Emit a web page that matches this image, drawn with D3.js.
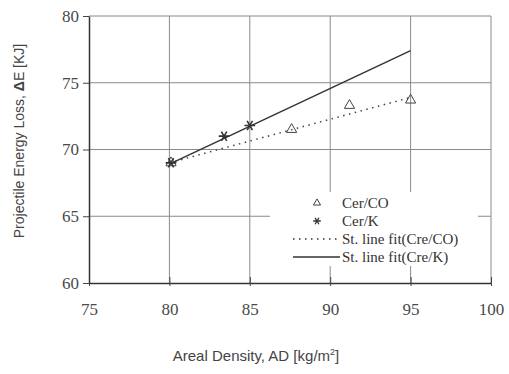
<!DOCTYPE html>
<html>
<head>
<meta charset="UTF-8">
<script src="https://d3js.org/d3.v7.min.js"></script>
<style>
  body { margin: 0; background: #fff; }
</style>
</head>
<body>
<div id="chart"></div>
<script>
// values
var cerCO = [[80.1, 69.0], [87.6, 71.5], [91.2, 73.3], [95.0, 73.7]];
var cerK = [[80.1, 69.0], [83.4, 71.0], [85.0, 71.8]];
var fitCO = [[80, 69.0], [95, 73.9]];
var fitK = [[80, 68.9], [95, 77.4]];
var xTicks = [75, 80, 85, 90, 95, 100];
var yTicks = [60, 65, 70, 75, 80];

var width = 509, height = 374;
var margin = { top: 16, right: 18, bottom: 91, left: 89 };

var svg = d3.select("#chart").append("svg")
  .attr("width", width)
  .attr("height", height);

var x = d3.scaleLinear().domain([75, 100]).range([margin.left, width - margin.right]);
var y = d3.scaleLinear().domain([60, 80]).range([height - margin.bottom, margin.top]);

var serif = "'Liberation Serif', 'Times New Roman', serif";
var sans = "'Liberation Sans', Arial, sans-serif";

// grid
svg.append("g")
  .selectAll("line.vg")
  .data(xTicks.slice(1))
  .enter().append("line")
  .attr("x1", d => x(d)).attr("x2", d => x(d))
  .attr("y1", y(60)).attr("y2", y(80))
  .attr("stroke", "#8a8a8a").attr("stroke-width", 1);

svg.append("g")
  .selectAll("line.hg")
  .data(yTicks.slice(1))
  .enter().append("line")
  .attr("x1", x(75)).attr("x2", x(100))
  .attr("y1", d => y(d)).attr("y2", d => y(d))
  .attr("stroke", "#8a8a8a").attr("stroke-width", 1);

// axes
var xAxis = svg.append("g")
  .attr("transform", "translate(0," + y(60) + ")")
  .call(d3.axisBottom(x).tickValues(xTicks).tickSizeInner(-6).tickSizeOuter(0).tickPadding(20));
xAxis.select(".domain").attr("stroke", "#333").attr("stroke-width", 1.5);
xAxis.selectAll(".tick line").attr("stroke", "#444").attr("y1", 3);
xAxis.selectAll("text")
  .style("font-family", serif).style("font-size", "17px").attr("fill", "#4a4a4a");

var yAxis = svg.append("g")
  .attr("transform", "translate(" + x(75) + ",0)")
  .call(d3.axisLeft(y).tickValues(yTicks).tickSize(6).tickSizeOuter(0).tickPadding(4));
yAxis.select(".domain").attr("stroke", "#333").attr("stroke-width", 1.5);
yAxis.selectAll(".tick line").attr("stroke", "#444");
yAxis.selectAll("text")
  .style("font-family", serif).style("font-size", "17px").attr("fill", "#4a4a4a");

// legend background (covers grid)
var lg = { x: 270, y: 192, w: 208, h: 74 };
svg.append("rect")
  .attr("x", lg.x).attr("y", lg.y).attr("width", lg.w).attr("height", lg.h)
  .attr("fill", "#fff");

// fit lines
var line = d3.line().x(d => x(d[0])).y(d => y(d[1]));
svg.append("path").datum(fitCO).attr("d", line)
  .attr("fill", "none").attr("stroke", "#444").attr("stroke-width", 1.5)
  .attr("stroke-dasharray", "1.5,4.5");
svg.append("path").datum(fitK).attr("d", line)
  .attr("fill", "none").attr("stroke", "#333").attr("stroke-width", 1.4);

// markers
var tri = d3.symbol().type(d3.symbolTriangle).size(45);
svg.append("g").selectAll("path")
  .data(cerCO).enter().append("path")
  .attr("d", tri)
  .attr("transform", d => "translate(" + x(d[0]) + "," + y(d[1]) + ")")
  .attr("fill", "none").attr("stroke", "#444").attr("stroke-width", 1);

var star = d3.symbol().type(d3.symbolAsterisk).size(80);
svg.append("g").selectAll("path")
  .data(cerK).enter().append("path")
  .attr("d", star)
  .attr("transform", d => "translate(" + x(d[0]) + "," + y(d[1]) + ") rotate(90)")
  .attr("fill", "none").attr("stroke", "#333").attr("stroke-width", 1.6);

// legend
var legendItems = [
  { label: "Cer/CO", kind: "tri" },
  { label: "Cer/K", kind: "star" },
  { label: "St. line fit(Cre/CO)", kind: "dot" },
  { label: "St. line fit(Cre/K)", kind: "solid" }
];
var legend = svg.append("g");
legendItems.forEach(function (item, i) {
  var cy = 203 + i * 18;
  if (item.kind === "tri") {
    legend.append("path").attr("d", d3.symbol().type(d3.symbolTriangle).size(22))
      .attr("transform", "translate(317," + cy + ")")
      .attr("fill", "none").attr("stroke", "#444").attr("stroke-width", 1);
  } else if (item.kind === "star") {
    legend.append("path").attr("d", d3.symbol().type(d3.symbolAsterisk).size(40))
      .attr("transform", "translate(317," + cy + ") rotate(90)")
      .attr("fill", "none").attr("stroke", "#333").attr("stroke-width", 1.3);
  } else {
    legend.append("line")
      .attr("x1", 293).attr("x2", 340).attr("y1", cy).attr("y2", cy)
      .attr("stroke", "#333").attr("stroke-width", 1.4)
      .attr("stroke-dasharray", item.kind === "dot" ? "1.5,4.5" : null);
  }
  legend.append("text")
    .attr("x", 342).attr("y", cy + 5)
    .style("font-family", serif).style("font-size", "15px").attr("fill", "#333")
    .text(item.label);
});

// axis titles
svg.append("text")
  .attr("x", 256).attr("y", 361)
  .attr("text-anchor", "middle")
  .style("font-family", sans).style("font-size", "15px").attr("fill", "#444")
  .text("Areal Density, AD [kg/m")
  .append("tspan").attr("dy", -6).style("font-size", "9px").text("2")
  .select(function () { return this.parentNode; })
  .append("tspan").attr("dy", 6).text("]");

svg.append("text")
  .attr("transform", "translate(24,141) rotate(-90)")
  .attr("text-anchor", "middle")
  .style("font-family", sans).style("font-size", "14px").attr("fill", "#444")
  .text("Projectile Energy Loss, ")
  .append("tspan").style("font-weight", "bold").text("Δ")
  .select(function () { return this.parentNode; })
  .append("tspan").text("E [KJ]");
</script>
</body>
</html>
